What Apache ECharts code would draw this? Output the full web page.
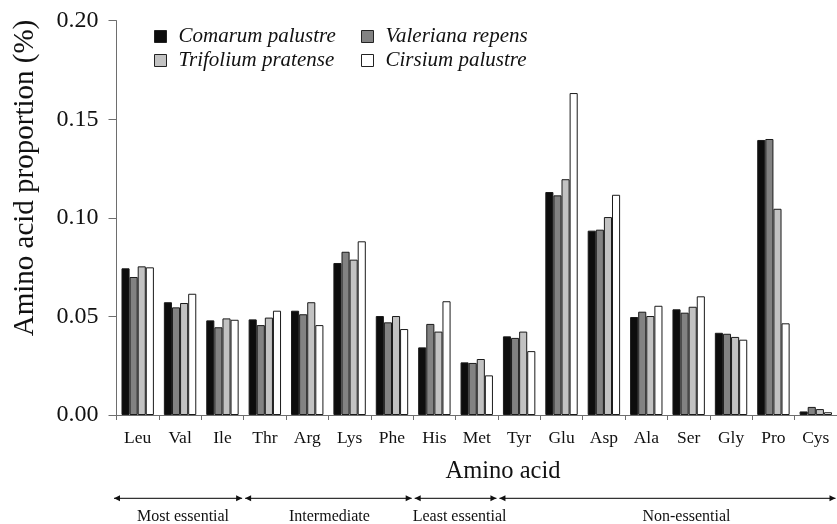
<!DOCTYPE html>
<html>
<head>
<meta charset="utf-8">
<script src="https://cdn.jsdelivr.net/npm/echarts@6/dist/echarts.min.js"></script>
<style>
html,body{margin:0;padding:0;background:#fff;}
#chart{width:837px;height:524px;}
</style>
</head>
<body>
<div id="chart"></div>
<script>
// ---- data ----
const categories = ['Leu','Val','Ile','Thr','Arg','Lys','Phe','His','Met','Tyr','Glu','Asp','Ala','Ser','Gly','Pro','Cys'];
const seriesNames = ['Comarum palustre','Valeriana repens','Trifolium pratense','Cirsium palustre'];
const comarum   = [0.0744,0.0572,0.0480,0.0485,0.0529,0.0771,0.0502,0.0343,0.0267,0.0399,0.1131,0.0935,0.0497,0.0536,0.0417,0.1395,0.0018];
const valeriana = [0.0700,0.0546,0.0445,0.0456,0.0511,0.0828,0.0470,0.0462,0.0264,0.0391,0.1114,0.0940,0.0524,0.0519,0.0412,0.1400,0.0041];
const trifolium = [0.0754,0.0568,0.0490,0.0494,0.0572,0.0788,0.0502,0.0423,0.0284,0.0423,0.1196,0.1004,0.0502,0.0549,0.0396,0.1046,0.0030];
const cirsium   = [0.0749,0.0615,0.0483,0.0529,0.0456,0.0881,0.0436,0.0577,0.0201,0.0324,0.1633,0.1117,0.0554,0.0602,0.0382,0.0465,0.0014];
const yTickLabels = ['0.00','0.05','0.10','0.15','0.20'];
const groupNames = ['Most essential','Intermediate','Least essential','Non-essential'];
const groupFirst = ['Leu','Thr','His','Tyr'];
const groupLast  = ['Ile','Phe','Met','Cys'];

// ---- style ----
const FONT = "'Times New Roman', 'Liberation Serif', serif";
const colors = ['#0d0d0d','#828282','#c2c2c2','#ffffff'];
const values = [comarum, valeriana, trifolium, cirsium];

const chart = echarts.init(document.getElementById('chart'), null, {renderer:'canvas'});

const legendPos = [[154,26],[361,26],[154,50],[361,50]];
const legends = seriesNames.map((n,i)=>({
  data:[n], left:legendPos[i][0], top:legendPos[i][1], padding:0,
  icon:'rect', itemWidth:12, itemHeight:12,
  itemStyle:{borderColor:'#222', borderWidth:1},
  textStyle:{fontFamily:FONT, fontStyle:'italic', fontSize:21, color:'#111', padding:[0,0,0,7]}
}));

const option = {
  animation:false,
  backgroundColor:'#fff',
  legend: legends,
  grid:{left:116.5, top:20.7, width:725, height:394.3, containLabel:false},
  xAxis:{
    type:'category', data:categories,
    axisLine:{show:true, lineStyle:{color:'#6e6e6e', width:1}},
    axisTick:{show:true, length:5, lineStyle:{color:'#6e6e6e'}},
    axisLabel:{fontFamily:FONT, fontSize:17.5, color:'#111', margin:14, interval:0}
  },
  yAxis:{
    type:'value', min:0, max:0.2, interval:0.05,
    axisLine:{show:true, lineStyle:{color:'#6e6e6e', width:1}},
    axisTick:{show:true, length:8, lineStyle:{color:'#6e6e6e'}},
    splitLine:{show:false},
    axisLabel:{fontFamily:FONT, fontSize:24, color:'#111', margin:18,
      formatter:(v)=>yTickLabels[Math.round(v/0.05)]}
  },
  series: seriesNames.map((n,i)=>({
    name:n, type:'bar', data:values[i],
    barWidth:8.1, barGap:'0%',
    itemStyle:{color:colors[i], borderColor:'#1a1a1a', borderWidth:1}
  }))
};
chart.setOption(option);

// axis titles and group annotations
const band = chart.convertToPixel({xAxisIndex:0}, categories[1]) - chart.convertToPixel({xAxisIndex:0}, categories[0]);
const W = 837;
const arrowY = 498.3;
const labelDx = [5, 1, 4, 19];
const g = [];
g.push({type:'text', x:25.5, y:178, rotation:Math.PI/2,
  style:{text:'Amino acid proportion (%)', font:'29px ' + FONT, fill:'#111', textAlign:'center', textVerticalAlign:'middle'}});
g.push({type:'text', x:503, y:471.7,
  style:{text:'Amino acid', font:'24.5px ' + FONT, fill:'#111', textAlign:'center', textVerticalAlign:'middle'}});
groupNames.forEach((name,i)=>{
  const l = chart.convertToPixel({xAxisIndex:0}, groupFirst[i]) - band/2 + 1.5 - (i===0?4:0);
  let r = chart.convertToPixel({xAxisIndex:0}, groupLast[i]) + band/2 - 1.5;
  r = Math.min(r, W - 1.5);
  g.push({type:'line', shape:{x1:l, y1:arrowY, x2:r, y2:arrowY}, style:{stroke:'#333', lineWidth:1.2}});
  g.push({type:'polygon', shape:{points:[[l,arrowY],[l+6,arrowY-3],[l+6,arrowY+3]]}, style:{fill:'#111'}});
  g.push({type:'polygon', shape:{points:[[r,arrowY],[r-6,arrowY-3],[r-6,arrowY+3]]}, style:{fill:'#111'}});
  g.push({type:'text', x:(l+r)/2 + labelDx[i], y:516.7,
    style:{text:name, font:'16px ' + FONT, fill:'#111', textAlign:'center', textVerticalAlign:'middle'}});
});
chart.setOption({graphic:g});
</script>
</body>
</html>
